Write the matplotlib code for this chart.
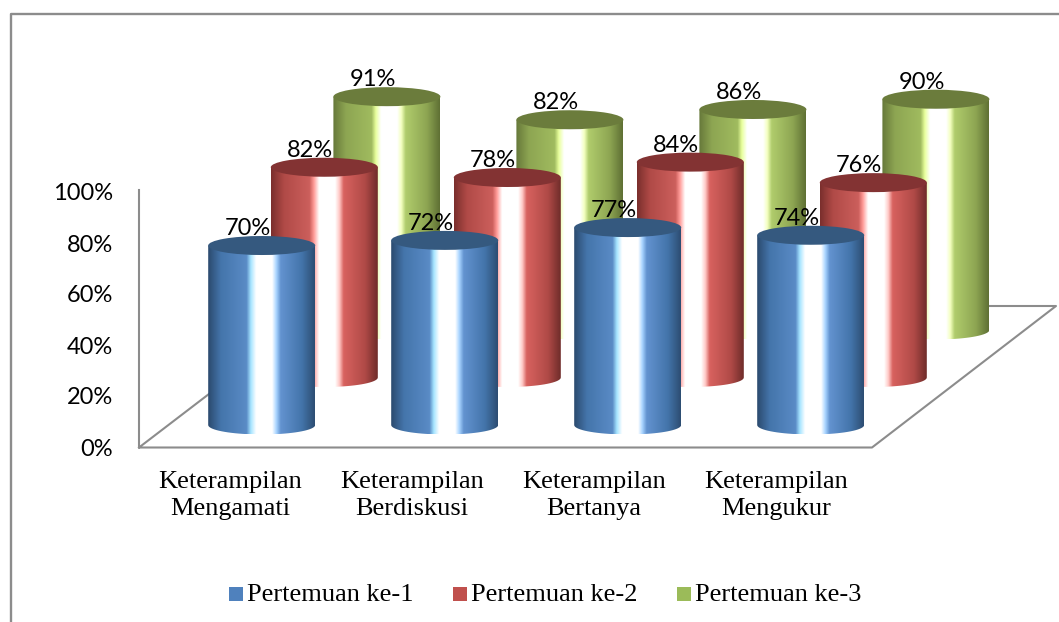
import matplotlib

matplotlib.use("Agg")
import matplotlib.pyplot as plt
import numpy as np
from matplotlib.colors import LinearSegmentedColormap
from matplotlib.patches import Ellipse, PathPatch, Rectangle
from matplotlib.path import Path

categories = ["Keterampilan\nMengamati", "Keterampilan\nBerdiskusi", "Keterampilan\nBertanya", "Keterampilan\nMengukur"]
series_names = ["Pertemuan ke-1", "Pertemuan ke-2", "Pertemuan ke-3"]
pertemuan_1 = [70, 72, 77, 74]
pertemuan_2 = [82, 78, 84, 76]
pertemuan_3 = [91, 82, 86, 90]
y_ticks = [0, 20, 40, 60, 80, 100]

WIDTH, HEIGHT = 1059, 622
PX_PER_PERCENT = 2.564
CAT_STEP = 183
SERIES_DX, SERIES_DY = 62.6, -47.5
BASE_X, BASE_Y = 261.7, 425
HALF_W, HALF_H = 53.5, 9.5

STOPS = [0, 0.12, 0.36, 0.40, 0.45, 0.60, 0.64, 0.68, 0.88, 1]
palettes = [
    {
        "top": "#35597f",
        "legend": "#4f81bd",
        "body": ["#2b4a6e", "#4475ab", "#5a8bc6", "#a5e4ff", "#ffffff", "#ffffff", "#a8d4ff", "#6393d0", "#4374aa", "#2d4d72"],
    },
    {
        "top": "#833333",
        "legend": "#c0504d",
        "body": ["#7a2f2d", "#b04a47", "#cc5f5c", "#ff9a97", "#ffffff", "#ffffff", "#ffc9c6", "#d8625f", "#b04a47", "#6f2c2a"],
    },
    {
        "top": "#6b7c3c",
        "legend": "#9bbb59",
        "body": ["#66783a", "#8da552", "#a0bb5f", "#e8ff9c", "#ffffff", "#ffffff", "#f4ffc0", "#b0cc6c", "#8da552", "#5f7034"],
    },
]


def project(cat, series, value):
    x = BASE_X + cat * CAT_STEP + series * SERIES_DX
    y = BASE_Y + series * SERIES_DY - value * PX_PER_PERCENT
    return x, y


def draw_cylinder(ax, cat, series, value, palette, zorder):
    cx, y_top = project(cat, series, value)
    _, y_bottom = project(cat, series, 0)
    arc = np.linspace(np.pi, 0, 40)
    verts = [(cx - HALF_W, y_top)]
    verts += [(cx + HALF_W * np.cos(a), y_bottom + HALF_H * np.sin(a)) for a in arc]
    verts += [(cx + HALF_W, y_top), (cx - HALF_W, y_top)]
    codes = [Path.MOVETO] + [Path.LINETO] * (len(verts) - 2) + [Path.CLOSEPOLY]
    clip = PathPatch(Path(verts, codes), transform=ax.transData, facecolor="none", edgecolor="none")
    ax.add_patch(clip)
    cmap = LinearSegmentedColormap.from_list("body", list(zip(STOPS, palette["body"])))
    gradient = np.linspace(0, 1, 256).reshape(1, -1)
    image = ax.imshow(
        gradient,
        cmap=cmap,
        aspect="auto",
        extent=(cx - HALF_W, cx + HALF_W, y_bottom + HALF_H, y_top),
        zorder=zorder,
        interpolation="bilinear",
    )
    image.set_clip_path(clip)
    ax.add_patch(Ellipse((cx, y_top), 2 * HALF_W, 2 * HALF_H, facecolor=palette["top"], edgecolor="none", zorder=zorder + 0.1))


fig = plt.figure(figsize=(WIDTH / 100, HEIGHT / 100), dpi=100)
ax = fig.add_axes([0, 0, 1, 1])
ax.axis("off")

grey = "#8c8c8c"
# outer chart frame, open at the bottom and right
ax.plot([11, 11, WIDTH], [HEIGHT, 14, 14], color=grey, lw=1.7, zorder=1)
# floor and value axis
ax.plot([139, 139, 872, 1056, 324, 139], [190, 447.5, 447.5, 306, 306, 447.5], color=grey, lw=1.5, zorder=1)

all_values = [pertemuan_1, pertemuan_2, pertemuan_3]
for series in (2, 1, 0):
    for cat, value in enumerate(all_values[series]):
        draw_cylinder(ax, cat, series, value, palettes[series], zorder=2 + (2 - series))

for series, values in enumerate(all_values):
    for cat, value in enumerate(values):
        cx, y_top = project(cat, series, value)
        ax.text(cx - 14, y_top - 17, f"{value}%", ha="center", va="center", fontsize=17, family="Lato", color="black", zorder=10)

for tick in y_ticks:
    ax.text(113, 449 - tick * 2.55, f"{tick}%", ha="right", va="center", fontsize=17, family="Lato", color="black")

for cat, label in enumerate(categories):
    ax.text(230 + cat * 182, 495.5, label, ha="center", va="center", fontsize=19, family="Liberation Serif", linespacing=1.33)

for i, name in enumerate(series_names):
    left = 229 + i * 224
    ax.add_patch(Rectangle((left, 587), 14, 14, facecolor=palettes[i]["legend"], edgecolor="none"))
    ax.text(left + 18, 595, name, ha="left", va="center", fontsize=19, family="Liberation Serif")

ax.set_xlim(0, WIDTH)
ax.set_ylim(HEIGHT, 0)
fig.savefig("out.png", dpi=100)
